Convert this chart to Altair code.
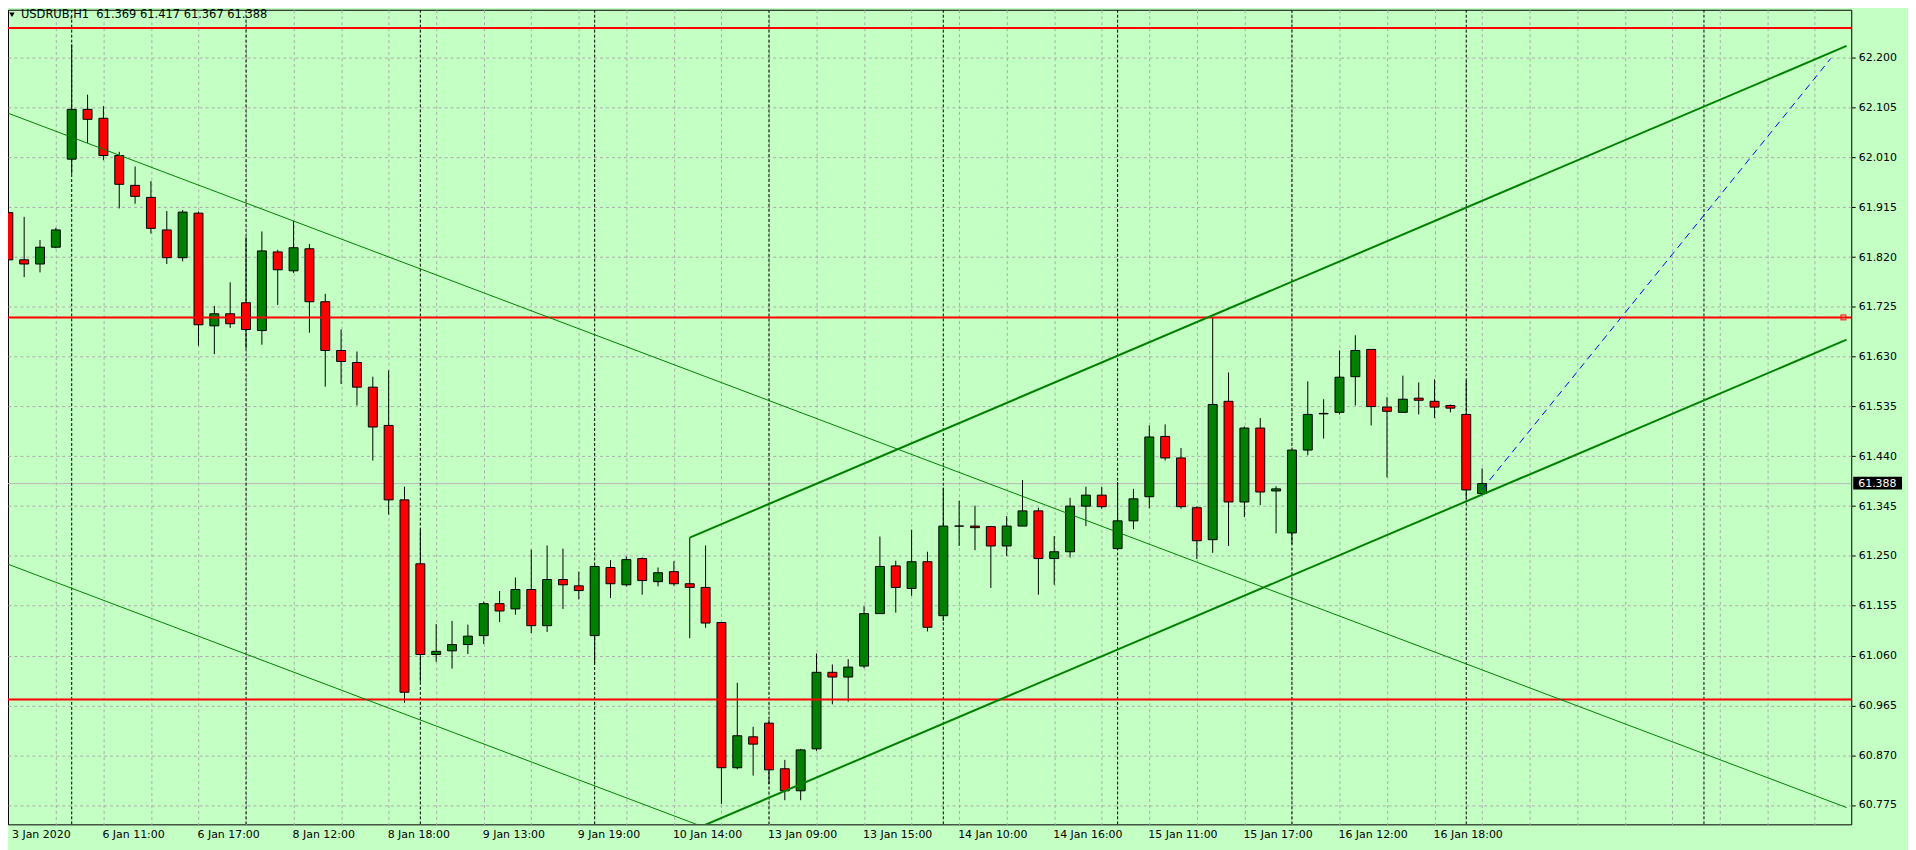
import altair as alt
import pandas as pd

# ---------------- data ----------------
opens = [61.905, 61.815, 61.807, 61.839, 62.007, 62.102, 62.085, 62.014, 61.957, 61.934,
         61.872, 61.819, 61.904, 61.689, 61.712, 61.733, 61.680, 61.830, 61.794, 61.836,
         61.735, 61.642, 61.619, 61.572, 61.499, 61.357, 61.235, 61.062, 61.069, 61.081,
         61.098, 61.159, 61.149, 61.186, 61.117, 61.205, 61.193, 61.098, 61.228, 61.195,
         61.245, 61.201, 61.220, 61.197, 61.190, 61.123, 60.846, 60.905, 60.931, 60.844,
         60.802, 60.882, 61.028, 61.019, 61.040, 61.140, 61.231, 61.188, 61.239, 61.136,
         61.307, 61.307, 61.306, 61.269, 61.307, 61.336, 61.245, 61.258, 61.345, 61.366,
         61.264, 61.317, 61.363, 61.478, 61.437, 61.342, 61.281, 61.545, 61.353, 61.494,
         61.374, 61.294, 61.452, 61.521, 61.524, 61.592, 61.644, 61.534, 61.524, 61.551,
         61.545, 61.537, 61.520, 61.369]
highs = [61.939, 61.897, 61.853, 61.876, 62.226, 62.130, 62.108, 62.021, 61.993, 61.965,
         61.908, 61.910, 61.907, 61.727, 61.772, 61.858, 61.869, 61.834, 61.889, 61.845,
         61.750, 61.682, 61.640, 61.592, 61.604, 61.382, 61.300, 61.120, 61.126, 61.119,
         61.163, 61.183, 61.209, 61.262, 61.270, 61.264, 61.220, 61.232, 61.242, 61.249,
         61.247, 61.228, 61.240, 61.285, 61.270, 61.123, 61.008, 60.924, 60.937, 60.861,
         60.882, 61.064, 61.043, 61.053, 61.154, 61.287, 61.241, 61.300, 61.258, 61.380,
         61.355, 61.346, 61.307, 61.326, 61.395, 61.342, 61.288, 61.361, 61.382, 61.382,
         61.391, 61.378, 61.499, 61.501, 61.456, 61.345, 61.706, 61.600, 61.497, 61.513,
         61.383, 61.452, 61.583, 61.549, 61.642, 61.671, 61.644, 61.553, 61.594, 61.581,
         61.587, 61.539, 61.585, 61.417]
lows = [61.807, 61.782, 61.791, 61.837, 61.979, 62.038, 62.005, 61.913, 61.922, 61.865,
        61.807, 61.812, 61.651, 61.635, 61.685, 61.646, 61.653, 61.729, 61.790, 61.676,
        61.573, 61.578, 61.537, 61.432, 61.329, 60.970, 61.010, 61.048, 61.035, 61.063,
        61.082, 61.124, 61.138, 61.103, 61.105, 61.149, 61.167, 61.045, 61.170, 61.192,
        61.176, 61.192, 61.193, 61.093, 61.113, 60.777, 60.843, 60.831, 60.815, 60.784,
        60.784, 60.878, 60.967, 60.972, 61.036, 61.140, 61.142, 61.174, 61.106, 61.126,
        61.269, 61.261, 61.189, 61.250, 61.307, 61.176, 61.195, 61.247, 61.307, 61.340,
        61.262, 61.301, 61.341, 61.432, 61.340, 61.244, 61.256, 61.269, 61.324, 61.347,
        61.293, 61.273, 61.442, 61.474, 61.520, 61.537, 61.499, 61.400, 61.524, 61.520,
        61.513, 61.524, 61.359, 61.367]
closes = [61.815, 61.807, 61.839, 61.872, 62.102, 62.083, 62.014, 61.959, 61.936, 61.875,
          61.819, 61.906, 61.691, 61.712, 61.693, 61.682, 61.832, 61.796, 61.838, 61.735,
          61.642, 61.621, 61.572, 61.496, 61.357, 60.990, 61.062, 61.068, 61.081, 61.097,
          61.159, 61.145, 61.186, 61.117, 61.205, 61.195, 61.184, 61.230, 61.197, 61.243,
          61.203, 61.218, 61.197, 61.190, 61.122, 60.846, 60.907, 60.891, 60.842, 60.802,
          60.880, 61.028, 61.019, 61.038, 61.140, 61.230, 61.190, 61.239, 61.114, 61.307,
          61.307, 61.304, 61.269, 61.307, 61.336, 61.245, 61.258, 61.345, 61.366, 61.344,
          61.317, 61.359, 61.477, 61.437, 61.344, 61.279, 61.539, 61.353, 61.494, 61.372,
          61.378, 61.452, 61.520, 61.522, 61.591, 61.642, 61.535, 61.526, 61.549, 61.547,
          61.534, 61.532, 61.376, 61.388]

time_labels = ["3 Jan 2020", "6 Jan 11:00", "6 Jan 17:00", "8 Jan 12:00", "8 Jan 18:00",
               "9 Jan 13:00", "9 Jan 19:00", "10 Jan 14:00", "13 Jan 09:00", "13 Jan 15:00",
               "14 Jan 10:00", "14 Jan 16:00", "15 Jan 11:00", "15 Jan 17:00", "16 Jan 12:00",
               "16 Jan 18:00"]
time_label_bars = [0, 6, 12, 18, 24, 30, 36, 42, 48, 54, 60, 66, 72, 78, 84, 90]

price_ticks = [60.775, 60.870, 60.965, 61.060, 61.155, 61.250, 61.345, 61.440, 61.535,
               61.630, 61.725, 61.820, 61.915, 62.010, 62.105, 62.200, 62.295]
grid_bars = [3, 6, 9, 12, 15, 18, 21, 24, 27, 30, 33, 36, 39, 42, 45, 48, 51, 54, 57, 60,
             63, 66, 69, 72, 75, 78, 81, 84, 87, 90, 93, 96, 99, 102, 105, 108, 111, 114]

separator_bars = [4, 15, 26, 37, 48, 59, 70, 81, 92, 107]
red_levels = [62.257, 61.705, 60.976]
bid_price = 61.388
header = "USDRUB,H1\u00a0\u00a061.369 61.417 61.367 61.388"

# trend objects (bar index / price pairs)
thin_x1 = [0, 0]
thin_y1 = [62.0945, 61.234]
thin_x2 = [116, 116]
thin_y2 = [60.770, 59.909]
chan_x1 = [43, 43]
chan_y1 = [61.285, 60.7245]
chan_x2 = [116, 116]
chan_y2 = [62.223, 61.6626]
blue_x1, blue_y1, blue_x2, blue_y2 = [93], [61.377], [115], [62.199]

# ---------------- layout ----------------
W, H = 1851, 818
XMIN, XMAX = 0.294, 115.98
YMIN, YMAX = 60.738, 62.292
BG = "#C4FFC4"
GREEN = "#008000"
RED = "#FF0000"
GRID = "#ABABAB"
FONT = "DejaVu Sans"

xs = alt.Scale(domain=[XMIN, XMAX], nice=False, zero=False)
ys = alt.Scale(domain=[YMIN, YMAX], nice=False, zero=False)

df = pd.DataFrame({"i": list(range(len(opens))), "o": opens, "h": highs, "l": lows, "c": closes})
df["dir"] = ["up" if c >= o else "down" for o, c in zip(opens, closes)]

xaxis = alt.Axis(values=grid_bars, grid=True, gridColor=GRID, gridDash=[3, 3], gridWidth=1,
                 labels=False, ticks=False, domain=False, title=None)
yaxis = alt.Axis(orient="right", values=price_ticks, format=".3f", grid=True, gridColor=GRID,
                 gridDash=[3, 3], gridWidth=1, ticks=True, tickSize=4, tickColor="black",
                 labelFont=FONT, labelFontSize=11, labelColor="black", labelPadding=3,
                 labelFlush=False, labelOverlap=False, domain=False, title=None)

bid_df = pd.DataFrame({"p": [bid_price]})
bid_line = alt.Chart(bid_df).mark_rule(color="#B8B8B8", strokeWidth=1).encode(
    y=alt.Y("p:Q", scale=ys))

sep_df = pd.DataFrame({"i": separator_bars})
seps = alt.Chart(sep_df).mark_rule(color="black", strokeWidth=1, strokeDash=[3, 2], clip=True).encode(
    x=alt.X("i:Q", scale=xs))

wicks = alt.Chart(df).mark_rule(color="black", strokeWidth=1, clip=True).encode(
    x=alt.X("i:Q", scale=xs, axis=xaxis),
    y=alt.Y("l:Q", scale=ys, axis=yaxis),
    y2="h:Q")

bodies = alt.Chart(df).mark_bar(size=9, stroke="black", strokeWidth=1, clip=True).encode(
    x=alt.X("i:Q", scale=xs),
    y=alt.Y("o:Q", scale=ys),
    y2="c:Q",
    color=alt.Color("dir:N", scale=alt.Scale(domain=["up", "down"], range=[GREEN, RED]), legend=None))

lv_df = pd.DataFrame({"p": red_levels})
levels = alt.Chart(lv_df).mark_rule(color=RED, strokeWidth=2).encode(y=alt.Y("p:Q", scale=ys))

thin_df = pd.DataFrame({"x1": thin_x1, "y1": thin_y1, "x2": thin_x2, "y2": thin_y2})
thin = alt.Chart(thin_df).mark_rule(color=GREEN, strokeWidth=1, clip=True).encode(
    x=alt.X("x1:Q", scale=xs), y=alt.Y("y1:Q", scale=ys), x2="x2:Q", y2="y2:Q")

chan_df = pd.DataFrame({"x1": chan_x1, "y1": chan_y1, "x2": chan_x2, "y2": chan_y2})
chan = alt.Chart(chan_df).mark_rule(color=GREEN, strokeWidth=2, clip=True).encode(
    x=alt.X("x1:Q", scale=xs), y=alt.Y("y1:Q", scale=ys), x2="x2:Q", y2="y2:Q")

blue_df = pd.DataFrame({"x1": blue_x1, "y1": blue_y1, "x2": blue_x2, "y2": blue_y2})
blue = alt.Chart(blue_df).mark_rule(color="#0000FF", strokeWidth=1, strokeDash=[7, 5], clip=True).encode(
    x=alt.X("x1:Q", scale=xs), y=alt.Y("y1:Q", scale=ys), x2="x2:Q", y2="y2:Q")

sq_df = pd.DataFrame({"x": [115.8], "p": [red_levels[1]]})
squares = alt.Chart(sq_df).mark_point(shape="square", filled=False, color=RED, size=22,
                                      strokeWidth=1.5).encode(
    x=alt.X("x:Q", scale=xs), y=alt.Y("p:Q", scale=ys))

box = alt.Chart(bid_df).mark_rect(color="black", yOffset=-7, y2Offset=6).encode(
    x=alt.value(W + 2), x2=alt.value(W + 51), y=alt.Y("p:Q", scale=ys), y2="p:Q")
box_text = alt.Chart(bid_df).mark_text(align="left", baseline="middle", font=FONT, fontSize=11,
                                       color="white").encode(
    x=alt.value(W + 7), y=alt.Y("p:Q", scale=ys), text=alt.Text("p:Q", format=".3f"))

hdr_df = pd.DataFrame({"t": [header]})
hdr_tri = alt.Chart(hdr_df).mark_point(shape="triangle-down", filled=True, color="black",
                                       size=30, opacity=1).encode(
    x=alt.value(4), y=alt.value(5))
hdr_text = alt.Chart(hdr_df).mark_text(align="left", baseline="middle", font=FONT, fontSize=11.5,
                                       color="black").encode(
    x=alt.value(13), y=alt.value(5.5), text="t:N")

lab_df = pd.DataFrame({"pos": [max(b, XMIN) for b in time_label_bars], "t": time_labels})
xlabels = alt.Chart(lab_df).mark_text(align="left", baseline="middle", font=FONT, fontSize=11,
                                      color="black", dx=-1).encode(
    x=alt.X("pos:Q", scale=xs), y=alt.value(H + 11), text="t:N")

chart = alt.layer(
    bid_line, seps, wicks, bodies, levels, thin, chan, blue, squares,
    box, box_text, hdr_tri, hdr_text, xlabels
).properties(
    width=W, height=H,
    autosize=alt.AutoSizeParams(type="none"),
    padding={"left": 0, "top": 0, "right": 57, "bottom": 24},
    background=BG,
).configure_view(
    stroke="black", strokeWidth=1
)

chart.save("out.html", embed_options={"renderer": "svg", "actions": False})
